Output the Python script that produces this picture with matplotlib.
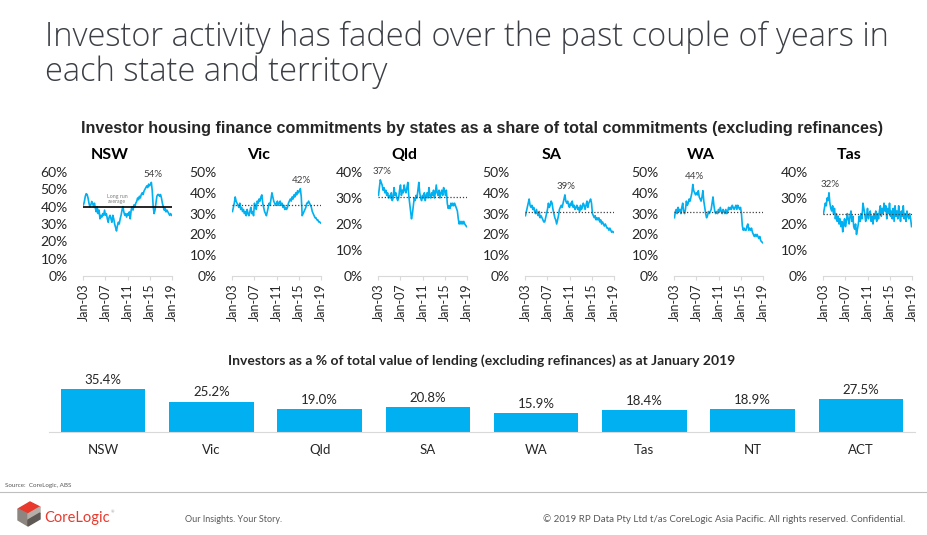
import numpy as np
import matplotlib
matplotlib.use("Agg")
import matplotlib.pyplot as plt
from matplotlib.lines import Line2D
from matplotlib.patches import Polygon

# ---- data (bi-monthly readings, Jan-03 .. Jan-19) ----
months = np.arange(0, 193, 2)

nsw = [41, 43, 46, 47.5, 47, 45, 42, 40, 41, 43, 42, 40,
       42, 39, 37, 40, 36, 38, 33, 35, 34, 36, 35, 38,
       35, 36, 33, 31, 34, 35, 33, 31, 35, 33, 30, 28,
       26, 29, 31, 30, 33, 35, 38, 40, 37, 35, 36, 34,
       36, 35, 37, 33, 38, 40, 38, 41, 40, 42, 43, 45,
       44, 46, 45, 47, 48, 47, 49, 50, 51, 52, 51, 53,
       52, 53, 54, 49, 40, 36, 38, 42, 46, 47, 47, 46,
       47, 45, 42, 40, 38, 39, 37, 38, 37, 36, 35, 36, 35]
vic = [31, 33, 35, 38, 36, 35, 34, 33, 35, 32, 33, 31,
       32, 30, 31, 29, 32, 30, 29, 31, 33, 30, 31, 29,
       35, 33, 32, 36, 35, 37, 36, 38, 39, 35, 33, 31,
       30, 29, 31, 33, 35, 34, 37, 40, 38, 36, 35, 34,
       35, 36, 34, 35, 36, 34, 35, 33, 34, 32, 33, 32,
       33, 35, 36, 37, 36, 38, 37, 39, 38, 40, 39, 41,
       40, 41, 42, 38, 29, 30, 31, 32, 33, 35, 35, 36,
       35, 34, 33, 31, 30, 29, 28, 28, 27, 27, 26, 26, 25.5]
qld = [31, 34, 37, 36, 35, 33, 34, 32, 33, 31, 32, 30,
       31, 30, 32, 29, 30, 34, 31, 32, 30, 29, 30, 33,
       35, 31, 33, 32, 35, 33, 32, 34, 36, 31, 28, 25,
       22, 24, 27, 30, 29, 31, 30, 33, 36, 32, 30, 29,
       31, 30, 32, 29, 31, 32, 30, 34, 31, 30, 32, 31,
       33, 30, 32, 35, 32, 31, 33, 30, 32, 33, 31, 34,
       33, 31, 33, 28, 26, 27, 26, 28, 27, 28, 27, 28,
       27, 26, 25, 22, 20, 21, 20, 21, 20, 21, 20, 19.5, 19]
sa = [29, 31, 33, 35, 37, 34, 33, 34, 32, 33, 31, 30,
      32, 30, 29, 31, 28, 29, 28, 27, 26, 26, 28, 30,
      32, 35, 33, 34, 36, 35, 32, 30, 28, 27, 25, 27,
      29, 32, 33, 34, 33, 35, 37, 39, 36, 35, 36, 34,
      33, 35, 34, 36, 33, 34, 32, 33, 34, 32, 33, 31,
      34, 32, 33, 35, 34, 32, 34, 36, 33, 35, 36, 37,
      35, 30, 29, 28, 29, 27, 28, 27, 28, 26, 27, 25,
      26, 25, 24, 25, 24, 23, 23, 22, 23, 22, 21, 21.5, 21]
wa = [28, 31, 32, 30, 33, 31, 32, 30, 33, 35, 31, 30,
      32, 36, 34, 35, 37, 36, 38, 40, 44, 41, 40, 39,
      40, 39, 41, 38, 37, 36, 38, 41, 36, 33, 30, 28,
      29, 31, 30, 31, 32, 35, 38, 34, 31, 30, 31, 30,
      32, 31, 33, 31, 30, 32, 31, 30, 32, 30, 31, 33,
      32, 33, 32, 34, 33, 32, 33, 34, 32, 34, 33, 32,
      33, 30, 24, 22, 23, 22, 22, 24, 25, 22, 23, 22,
      23, 21, 20, 19, 20, 19, 20, 19, 18, 19, 17, 16.5, 16]
tas = [24, 26, 28, 27, 30, 29, 32, 28, 26, 25, 27, 24,
       26, 22, 24, 21, 23, 20, 22, 19, 21, 17, 20, 22,
       19, 21, 24, 22, 20, 23, 25, 21, 23, 19, 18, 20,
       16, 18, 20, 23, 21, 24, 22, 28, 26, 24, 21, 23,
       26, 22, 24, 25, 21, 23, 20, 24, 22, 25, 21, 24,
       22, 25, 27, 23, 26, 24, 28, 25, 27, 22, 26, 24,
       28, 23, 25, 22, 26, 21, 27, 23, 25, 22, 27, 24,
       21, 25, 23, 27, 22, 24, 21, 25, 23, 22, 24, 22, 19]

states = ["NSW", "Vic", "Qld", "SA", "WA", "Tas"]
series = [nsw, vic, qld, sa, wa, tas]
ymax = [60, 50, 40, 50, 50, 40]
long_run = [40, 34, 30.4, 31, 31, 23.8]
peak_lbl = ["54%", "42%", "37%", "39%", "44%", "32%"]

tick_months = [0, 48, 96, 144, 192]
tick_labels = ["Jan-03", "Jan-07", "Jan-11", "Jan-15", "Jan-19"]

bar_cats = ["NSW", "Vic", "Qld", "SA", "WA", "Tas", "NT", "ACT"]
bar_vals = [35.4, 25.2, 19.0, 20.8, 15.9, 18.4, 18.9, 27.5]

BLUE = "#00B0F0"
TXT = "#262626"
W, H = 927, 535

plt.rcParams['font.family'] = ['Lato', 'DejaVu Sans']
fig = plt.figure(figsize=(W / 100, H / 100), dpi=100)

def px(x0, y0, x1, y1):
    return [x0 / W, 1 - y1 / H, (x1 - x0) / W, (y1 - y0) / H]

# ---- titles ----
tfont = ['Open Sans', 'Lato']
fig.text(45 / W, 1 - 37 / H, "Investor activity has faded over the past couple of years in",
         fontsize=23.5, fontweight='light', color="#3b3f45", va='center', ha='left', family=tfont)
fig.text(45 / W, 1 - 72 / H, "each state and territory",
         fontsize=23.5, fontweight='light', color="#3b3f45", va='center', ha='left', family=tfont)
fig.text(482 / W, 1 - 129 / H,
         "Investor housing finance commitments by states as a share of total commitments (excluding refinances)",
         fontsize=11.6, fontweight='bold', color=TXT, ha='center', va='center',
         family=['Liberation Sans Narrow', 'Liberation Sans'])

# ---- six small line charts ----
lefts = [83, 232, 378, 525, 674, 823]
for i in range(6):
    ax = fig.add_axes(px(lefts[i], 172, lefts[i] + 89, 276))
    vals = np.array(series[i])
    ax.plot(months, vals, color=BLUE, lw=1.2)
    if i == 0:
        ax.axhline(long_run[i], xmin=0.0, xmax=1.0, color='black', lw=1.2)
        ax.text(73, 44.5, "Long run\naverage", fontsize=3.8, color="#7f7f7f",
                ha='center', va='center', linespacing=1.1)
    else:
        ax.plot([0, 192], [long_run[i], long_run[i]], color="#404040", lw=0.9, ls=(0, (1, 1.5)))
    k = int(np.argmax(vals))
    ax.annotate(peak_lbl[i], (months[k], vals[k]), xytext=(1, 2.5), textcoords='offset points',
                ha='center', va='bottom', fontsize=7, color="#404040", annotation_clip=False)
    ax.set_xlim(-1, 193)
    ax.set_ylim(0, ymax[i])
    ax.set_yticks(np.arange(0, ymax[i] + 1, 10))
    ax.set_yticklabels([f"{v}%" for v in range(0, ymax[i] + 1, 10)], fontsize=10, color=TXT)
    ax.set_xticks(tick_months)
    ax.set_xticklabels(tick_labels, rotation=90, fontsize=9, color=TXT)
    ax.tick_params(axis='y', length=0, pad=11)
    ax.tick_params(axis='x', length=3, color="#D9D9D9", pad=2)
    for s in ['top', 'right', 'left']:
        ax.spines[s].set_visible(False)
    ax.spines['bottom'].set_color("#D9D9D9")
    ax.patch.set_alpha(0)
    ax.text(0.5 - 18 / 89, 1.16, states[i], transform=ax.transAxes, fontsize=11.5,
            fontweight='bold', color='black', ha='center', va='center')

# ---- bar chart ----
fig.text(482 / W, 1 - 361 / H,
         "Investors as a % of total value of lending (excluding refinances) as at January 2019",
         fontsize=10, fontweight='bold', color=TXT, ha='center', va='center')
bx = fig.add_axes(px(49, 383.6, 915, 432))
xs = np.arange(len(bar_cats))
bars = bx.bar(xs, bar_vals, width=0.78, color=BLUE)
for x, v in zip(xs, bar_vals):
    bx.text(x, v + 2.5, f"{v:.1f}%", ha='center', va='bottom', fontsize=9.5, color=TXT)
bx.set_xlim(-0.5, len(bar_cats) - 0.5)
bx.set_ylim(0, 40)
bx.set_yticks([])
bx.set_xticks(xs)
bx.set_xticklabels(bar_cats, fontsize=9.5, color=TXT)
bx.tick_params(axis='x', length=0, pad=9)
for s in ['top', 'right', 'left']:
    bx.spines[s].set_visible(False)
bx.spines['bottom'].set_color("#D9D9D9")
bx.patch.set_alpha(0)

# ---- footer ----
fig.text(5 / W, 1 - 486 / H, "Source:  CoreLogic, ABS", fontsize=4.5, color="#595959",
         ha='left', va='center')
fig.add_artist(Line2D([0, 1], [1 - 492 / H, 1 - 492 / H], color="#BFBFBF", lw=0.8))

def fp(pts):
    return [(x / W, 1 - y / H) for x, y in pts]

fig.add_artist(Polygon(fp([(18, 509), (30, 502), (40, 507), (28, 514)]), closed=True,
                       color="#E8392C", transform=fig.transFigure))
fig.add_artist(Polygon(fp([(18, 509), (28, 514), (28, 526), (18, 520)]), closed=True,
                       color="#8C8580", transform=fig.transFigure))
fig.add_artist(Polygon(fp([(28, 514), (40, 507), (40, 513), (28, 520)]), closed=True,
                       color="#B5AEA8", transform=fig.transFigure))
fig.add_artist(Polygon(fp([(28, 520), (40, 513), (40, 519), (28, 526)]), closed=True,
                       color="#5E5955", transform=fig.transFigure))
fig.text(44 / W, 1 - 518 / H, "CoreLogic", fontsize=10.5, color="#E8392C", ha='left', va='center')
fig.text(111 / W, 1 - 512 / H, "\u00ae", fontsize=3, color="#999999", ha='left', va='center')
fig.text(185 / W, 1 - 519 / H, "Our Insights. Your Story.", fontsize=6.5, color="#595959",
         ha='left', va='center')
fig.text(905 / W, 1 - 519 / H,
         "\u00a9 2019 RP Data Pty Ltd t/as CoreLogic Asia Pacific. All rights reserved. Confidential.",
         fontsize=7, color="#595959", ha='right', va='center')

fig.savefig("out.png", dpi=100)
